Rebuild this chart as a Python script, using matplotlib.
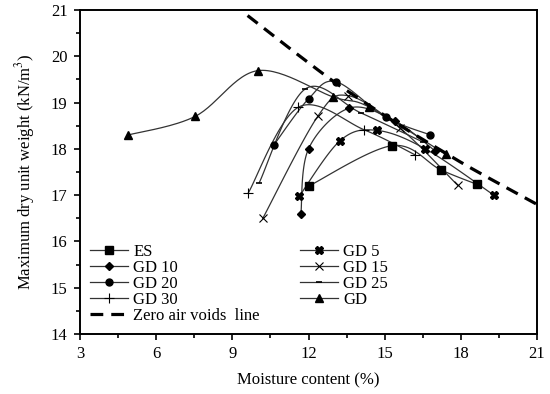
import numpy as np
import matplotlib.pyplot as plt
from matplotlib.ticker import MultipleLocator

plt.rcParams['font.family'] = ['Liberation Serif', 'DejaVu Serif']
plt.rcParams['mathtext.fontset'] = 'stix'

# ==========================================
# DATA
# ==========================================
es_x = [12.02, 15.3, 17.2, 18.65]
es_y = [17.2, 18.07, 17.55, 17.23]

gd5_x = [11.64, 13.25, 14.68, 16.6, 19.3]
gd5_y = [16.98, 18.18, 18.4, 18.0, 17.0]

gd10_x = [11.7, 12.0, 13.6, 15.4, 17.0]
gd10_y = [16.6, 18.0, 18.88, 18.6, 17.95]

gd15_x = [10.2, 12.36, 13.55, 15.6, 17.88]
gd15_y = [16.5, 18.7, 19.15, 18.45, 17.21]

gd20_x = [10.63, 12.0, 13.08, 15.05, 16.8]
gd20_y = [18.08, 19.08, 19.45, 18.68, 18.3]

gd25_x = [10.06, 11.86, 14.05, 16.5]
gd25_y = [17.27, 19.29, 18.78, 18.15]

gd30_x = [9.63, 11.6, 14.2, 16.2]
gd30_y = [17.05, 18.9, 18.41, 17.87]

gd_x = [4.9, 7.53, 10.0, 12.98, 14.4, 17.4]
gd_y = [18.3, 18.7, 19.69, 19.12, 18.9, 17.88]

zav_x = [9.6, 11.0, 12.0, 13.0, 14.0, 15.0, 16.0, 17.0, 18.0, 19.0, 20.0, 21.0]
zav_y = [20.88, 20.28, 19.86, 19.45, 19.08, 18.72, 18.37, 18.04, 17.71, 17.40, 17.10, 16.80]


def smooth(xs, ys, n=30, t=0.5):
    # cardinal spline through the read points (Excel-like smoothed line)
    p = np.column_stack([xs, ys]).astype(float)
    p = np.vstack([p[0], p, p[-1]])
    out = []
    for i in range(1, len(p) - 2):
        p0, p1, p2, p3 = p[i - 1], p[i], p[i + 1], p[i + 2]
        m1 = t * (p2 - p0)
        m2 = t * (p3 - p1)
        s = np.linspace(0, 1, n)[:, None]
        h1 = 2 * s**3 - 3 * s**2 + 1
        h2 = -2 * s**3 + 3 * s**2
        h3 = s**3 - 2 * s**2 + s
        h4 = s**3 - s**2
        out.append(h1 * p1 + h2 * p2 + h3 * m1 + h4 * m2)
    seg = np.vstack(out)
    return seg[:, 0], seg[:, 1]


fig = plt.figure(figsize=(5.5, 3.94), dpi=100)
ax = fig.add_axes([0.1455, 0.1523, 0.8309, 0.8223])

series = [
    ('ES', es_x, es_y, dict(marker='s', ms=5.5)),
    ('GD 5', gd5_x, gd5_y, dict(marker='X', ms=6)),
    ('GD 10', gd10_x, gd10_y, dict(marker='D', ms=4)),
    ('GD 15', gd15_x, gd15_y, dict(marker='x', ms=5.5, mew=0.8)),
    ('GD 20', gd20_x, gd20_y, dict(marker='o', ms=5)),
    ('GD 25', gd25_x, gd25_y, dict(marker='_', ms=4, mew=1.2)),
    ('GD 30', gd30_x, gd30_y, dict(marker='+', ms=7.5, mew=0.8)),
    ('GD', gd_x, gd_y, dict(marker='^', ms=5.5)),
]

handles = {}
for name, xs, ys, mk in series:
    sx, sy = smooth(xs, ys)
    ax.plot(sx, sy, color='#333333', lw=0.9, zorder=2)
    ax.plot(xs, ys, ls='none', color='black', zorder=3, **mk)
    handles[name] = ax.plot([], [], color='#333333', lw=0.9, mfc='black',
                            mec='black', **mk)[0]

zx, zy = smooth(zav_x, zav_y)
handles['Zero air voids  line'] = ax.plot(zx, zy, color='black', lw=2.3,
                                          ls=(0, (4, 2.5)), zorder=4)[0]

ax.set_xlim(3, 21)
ax.set_ylim(14, 21)
ax.xaxis.set_major_locator(MultipleLocator(3))
ax.xaxis.set_minor_locator(MultipleLocator(1.5))
ax.yaxis.set_major_locator(MultipleLocator(1))
ax.yaxis.set_minor_locator(MultipleLocator(0.5))
ax.tick_params(which='major', length=4, width=1.2, labelsize=12,
               direction='out', pad=5)
ax.tick_params(which='minor', length=3, width=1.2, direction='out')
for sp in ax.spines.values():
    sp.set_linewidth(1.4)

ax.set_xlabel('Moisture content (%)', fontsize=12, labelpad=7)
ax.set_ylabel('Maximum dry unit weight (kN/m$^3$)', fontsize=12, labelpad=10)

order = ['ES', 'GD 10', 'GD 20', 'GD 30', 'Zero air voids  line',
         'GD 5', 'GD 15', 'GD 25', 'GD']
ax.legend([handles[k] for k in order], order, ncol=2, loc='lower left',
          frameon=False, fontsize=12, handlelength=2.3, handletextpad=0.3,
          labelspacing=0.0, columnspacing=2.4, borderaxespad=0.2,
          bbox_to_anchor=(0.0, 0.0))

fig.savefig('out.png', dpi=100)
